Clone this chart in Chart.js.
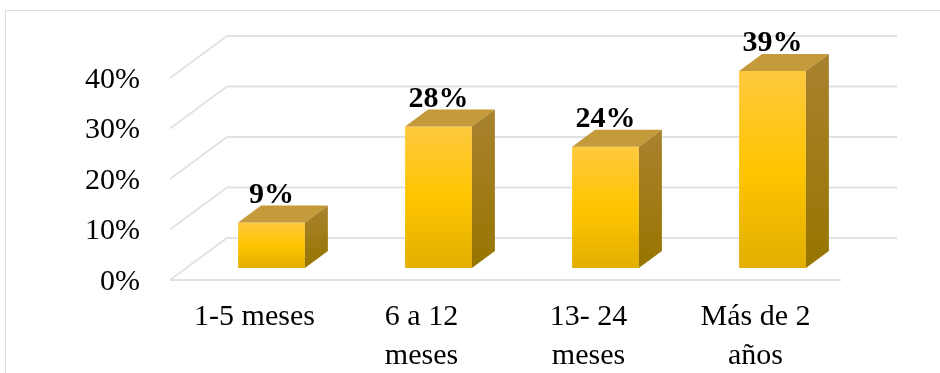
<!DOCTYPE html>
<html>
<head>
<meta charset="utf-8">
<script src="https://cdn.jsdelivr.net/npm/chart.js@4.4.1/dist/chart.umd.min.js"></script>
<style>
  body { margin: 0; background: #fff; }
  #marco { position: absolute; left: 5px; top: 10px; width: 1000px; height: 400px; border: 1px solid #dcdee3; }
  canvas { position: absolute; left: 0; top: 0; }
</style>
</head>
<body>
<div id="marco"></div>
<canvas id="grafico" width="940" height="373"></canvas>
<script>
const categorias = [['1-5 meses'], ['6 a 12', 'meses'], ['13- 24', 'meses'], ['Más de 2', 'años']];
const porcentajes = [9, 28, 24, 39];
const marcasEje = [0, 10, 20, 30, 40];

// desplazamiento de la cara superior / lateral de cada columna
const prof = { dx: 23, dy: -17 };

const fuente = '"Liberation Serif", "Times New Roman", serif';

function degradadoFrente(ctx) {
    const chart = ctx.chart;
    const y = chart.scales.y;
    if (ctx.type !== 'data' || !y) return '#ffc000';
    const y0 = y.getPixelForValue(porcentajes[ctx.dataIndex]);
    const y1 = y.getPixelForValue(0);
    // en la primera pasada la escala todavía no tiene tamaño
    if (!isFinite(y0) || !isFinite(y1) || y0 === y1) return '#ffc000';
    const g = chart.ctx.createLinearGradient(0, y0, 0, y1);
    g.addColorStop(0, '#ffc93f');
    g.addColorStop(0.5, '#ffc500');
    g.addColorStop(1, '#e2af00');
    return g;
}

// paredes y piso en perspectiva
const paredes = {
    id: 'paredes',
    beforeDatasetsDraw(chart) {
        const { ctx, chartArea: a, scales: { y } } = chart;
        const base = y.getPixelForValue(0);
        ctx.save();
        ctx.strokeStyle = '#e0e2e7';
        ctx.lineWidth = 2;
        marcasEje.forEach(v => {
            const yb = y.getPixelForValue(v) - 30;
            ctx.beginPath();
            ctx.moveTo(a.left - 18, yb + 42);
            ctx.lineTo(a.left + 39, yb);
            ctx.lineTo(a.right + 41, yb);
            ctx.stroke();
        });
        ctx.beginPath();
        ctx.moveTo(a.left - 18, base + 12);
        ctx.lineTo(a.right - 15, base + 12);
        ctx.stroke();
        ctx.restore();
    }
};

// caras superior y lateral + etiquetas de valor
const columnas3d = {
    id: 'columnas3d',
    afterDatasetsDraw(chart) {
        const { ctx } = chart;
        const meta = chart.getDatasetMeta(0);
        ctx.save();
        meta.data.forEach((barra, i) => {
            const { x, y: tope, base, width } = barra.getProps(['x', 'y', 'base', 'width'], true);
            const l = x - width / 2, r = x + width / 2;

            ctx.fillStyle = '#c49a3a';
            ctx.beginPath();
            ctx.moveTo(l, tope);
            ctx.lineTo(l + prof.dx, tope + prof.dy);
            ctx.lineTo(r + prof.dx, tope + prof.dy);
            ctx.lineTo(r, tope);
            ctx.closePath();
            ctx.fill();

            const g = ctx.createLinearGradient(0, tope + prof.dy, 0, base);
            g.addColorStop(0, '#a8822f');
            g.addColorStop(1, '#977500');
            ctx.fillStyle = g;
            ctx.beginPath();
            ctx.moveTo(r, tope);
            ctx.lineTo(r + prof.dx, tope + prof.dy);
            ctx.lineTo(r + prof.dx, base + prof.dy);
            ctx.lineTo(r, base);
            ctx.closePath();
            ctx.fill();

            ctx.fillStyle = '#000';
            ctx.font = 'bold 30px ' + fuente;
            ctx.textAlign = 'center';
            ctx.textBaseline = 'alphabetic';
            ctx.fillText(porcentajes[i] + '%', x, tope - 20);
        });
        ctx.restore();
    }
};

new Chart(document.getElementById('grafico'), {
    type: 'bar',
    data: {
        labels: categorias,
        datasets: [{
            data: porcentajes,
            backgroundColor: degradadoFrente,
            borderWidth: 0,
            barPercentage: 0.4,
            categoryPercentage: 1
        }]
    },
    options: {
        responsive: false,
        animation: false,
        layout: { padding: { top: 64, right: 84, left: 0, bottom: 0 } },
        plugins: { legend: { display: false }, tooltip: { enabled: false } },
        scales: {
            x: {
                grid: { display: false, drawTicks: false },
                border: { display: false },
                ticks: {
                    color: '#000',
                    font: { family: fuente, size: 30, lineHeight: 1.3 },
                    padding: 30,
                    labelOffset: -17,
                    maxRotation: 0,
                    autoSkip: false
                },
                afterFit: s => { s.height = 105; }
            },
            y: {
                min: marcasEje[0],
                max: marcasEje[marcasEje.length - 1],
                afterBuildTicks: s => { s.ticks = marcasEje.map(v => ({ value: v })); },
                grid: { display: false, drawTicks: false },
                border: { display: false },
                ticks: {
                    color: '#000',
                    font: { family: fuente, size: 30 },
                    padding: 48,
                    labelOffset: 14,
                    callback: v => v + '%'
                },
                afterFit: s => { s.width = 188; }
            }
        }
    },
    plugins: [paredes, columnas3d]
});
</script>
</body>
</html>
